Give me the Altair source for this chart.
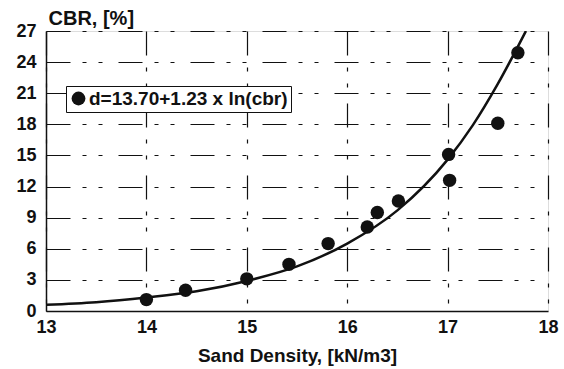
import altair as alt
import pandas as pd

# Measured points
density = [14.0, 14.39, 15.0, 15.42, 15.81, 16.2, 16.3, 16.51, 17.01, 17.02, 17.5, 17.7]
cbr = [1.1, 2.0, 3.1, 4.5, 6.5, 8.1, 9.5, 10.6, 15.1, 12.6, 18.1, 24.9]

# Fitted curve
curve_density = [13.0, 13.5, 14.0, 14.5, 15.0, 15.5, 16.0, 16.5, 17.0, 17.25, 17.5, 17.78]
curve_cbr = [0.6, 0.85, 1.3, 1.9, 2.9, 4.3, 6.5, 9.7, 14.6, 17.9, 21.9, 27.0]

legend_label = "d=13.70+1.23 x ln(cbr)"
x_ticks = [13, 14, 15, 16, 17, 18]
y_ticks = [0, 3, 6, 9, 12, 15, 18, 21, 24, 27]

pts = pd.DataFrame({"d": density, "cbr": cbr, "series": [legend_label] * len(density)})
crv = pd.DataFrame({"d": curve_density, "cbr": curve_cbr})

FONT = "Liberation Sans"
grid_dash = [24, 12, 4, 12, 4, 16]

x_enc = alt.X(
    "d:Q",
    scale=alt.Scale(domain=[13, 18], nice=False, zero=False),
    axis=alt.Axis(
        values=x_ticks, title="Sand Density, [kN/m3]", format="d",
        labelFont=FONT, labelFontSize=18, labelFontWeight="bold", labelColor="#111",
        labelPadding=7, labelOverlap=False, labelFlush=False, labelBound=False,
        titleFont=FONT, titleFontSize=19,
        titleFontWeight="bold", titleColor="#111", titlePadding=10, tickSize=0,
        domainColor="#111", domainWidth=1.5, grid=True, gridColor="#111",
        gridDash=grid_dash, gridWidth=1.2,
    ),
)
y_enc = alt.Y(
    "cbr:Q",
    scale=alt.Scale(domain=[0, 27], nice=False),
    axis=alt.Axis(
        values=y_ticks, title="CBR, [%]", labelFont=FONT, labelFontSize=18,
        labelFontWeight="bold", labelColor="#111", labelPadding=10, labelOverlap=False,
        labelBound=False, labelFlush=False,
        titleFont=FONT, titleFontSize=20, titleFontWeight="bold", titleColor="#111",
        titleAngle=0, titleAlign="left", titleBaseline="alphabetic",
        titleX=2, titleY=-7, tickSize=0, domainColor="#111", domainWidth=1.5,
        grid=True, gridColor="#111", gridDash=grid_dash, gridWidth=1.2,
    ),
)

line = alt.Chart(crv).mark_line(color="#111", strokeWidth=2.5, interpolate="monotone", clip=True).encode(
    x=x_enc, y=y_enc
)

points = alt.Chart(pts).mark_circle(size=180, opacity=1).encode(
    x=x_enc,
    y=y_enc,
    color=alt.Color(
        "series:N",
        scale=alt.Scale(range=["#111"]),
        legend=alt.Legend(
            title=None, orient="none", legendX=20, legendY=55,
            labelFont=FONT, labelFontSize=19, labelFontWeight="bold", labelColor="#111",
            symbolType="circle", symbolSize=190, symbolStrokeWidth=0,
            fillColor="white", strokeColor="#111", padding=3,
            labelLimit=400, labelOffset=1,
        ),
    ),
)

chart = (
    alt.layer(line, points)
    .properties(
        width=502, height=280,
        autosize=alt.AutoSizeParams(type="none"),
        padding={"left": 46, "top": 31, "right": 16, "bottom": 58},
    )
    .configure_view(stroke="#111", strokeWidth=1.5)
    .configure(background="white")
)

chart.save("out.html", embed_options={"renderer": "svg", "actions": False})
